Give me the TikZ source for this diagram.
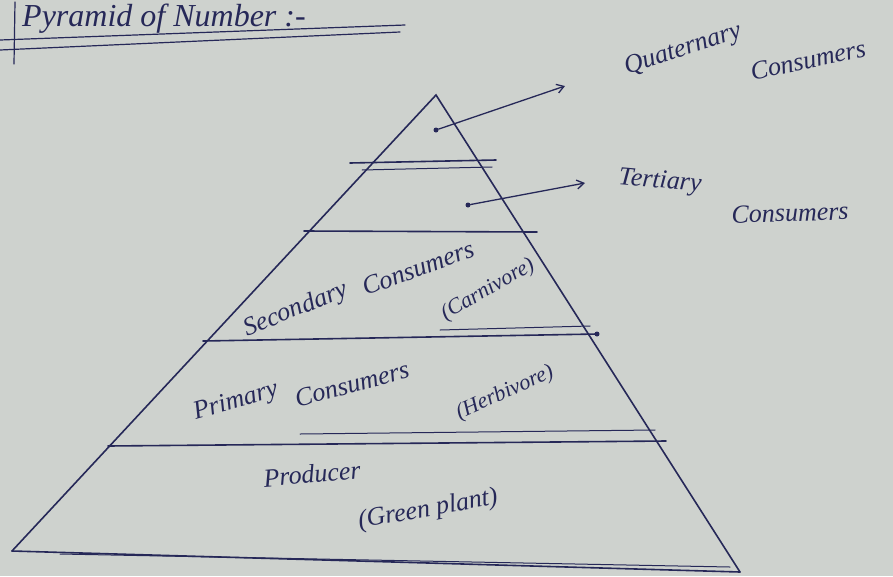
\documentclass[tikz,border=0pt]{standalone}
\usepackage{fontspec}
\setmainfont{Liberation Serif}
\usetikzlibrary{arrows.meta}
\definecolor{paper}{RGB}{206,210,206}
\definecolor{ink}{RGB}{38,40,88}
\tikzset{
  pen/.style={draw=ink, line width=1.6pt, line cap=round},
  hand/.style={text=ink, font=\itshape\fontsize{26}{28}\selectfont, inner sep=0pt},
  small hand/.style={hand, font=\itshape\fontsize{22}{24}\selectfont},
  pointer/.style={pen, line width=1.3pt, -{Straight Barb[length=7pt,width=9pt]}},
  dotmark/.style={circle, fill=ink, inner sep=0pt, minimum size=5pt}
}
\begin{document}
\begin{tikzpicture}[x=1pt,y=-1pt]
\fill[paper] (0,0) rectangle (893,576);
\useasboundingbox (0,0) rectangle (893,576);
% heading with its double underline
\node[hand, anchor=base west, font=\itshape\fontsize{32}{34}\selectfont] (title) at (22,26) {Pyramid of Number :-};
\coordinate (u1a) at (0,40); \coordinate (u1b) at (405,25);
\coordinate (u2a) at (0,50); \coordinate (u2b) at (400,32);
\draw[pen, line width=1.2pt] (u1a) -- (u1b);
\draw[pen, line width=1.2pt] (u2a) -- (u2b);
\draw[pen, line width=1.2pt] (15,2) -- (14,64);

% outline of the pyramid
\coordinate (apex) at (436,95);
\coordinate (bl) at (12,551);
\coordinate (br) at (740,572);
\draw[pen] (bl) -- (apex) -- (br);
\draw[pen] (bl) -- (br);
\draw[pen, line width=1pt] (60,554) -- (730,567);

% level dividers
\coordinate (l1a) at (350,163); \coordinate (l1b) at (496,160);
\coordinate (l2a) at (304,231); \coordinate (l2b) at (537,232);
\coordinate (l3a) at (203,341); \coordinate (l3b) at (597,334);
\coordinate (l4a) at (108,446); \coordinate (l4b) at (666,441);
\draw[pen] (l1a) -- (l1b);
\draw[pen, line width=1pt] (362,170) -- (492,167);
\draw[pen] (l2a) -- (l2b);
\draw[pen] (l3a) -- (l3b);
\draw[pen, line width=1pt] (440,330) -- (590,326);
\draw[pen] (l4a) -- (l4b);
\draw[pen, line width=1pt] (300,434) -- (655,430);
\node[dotmark] (d3) at (l3b) {};

% pointers to the two top levels
\node[dotmark] (q) at (436,130) {};
\node[dotmark] (t) at (468,205) {};
\coordinate (qend) at (565,86);
\coordinate (tend) at (585,183);
\draw[pointer] (q) -- (qend);
\draw[pointer] (t) -- (tend);

% level names
\node[hand, rotate=18] (quat) at (683,50) {Quaternary};
\node[hand, rotate=12] (quatc) at (808,60) {Consumers};
\node[hand, rotate=-5] (tert) at (660,182) {Tertiary};
\node[hand, rotate=2] (tertc) at (790,213) {Consumers};

\node[hand, rotate=22] (sec) at (296,310) {Secondary};
\node[hand, rotate=20] (secc) at (418,268) {Consumers};
\node[small hand, rotate=30] (secn) at (488,290) {(Carnivore)};

\node[hand, rotate=16] (pri) at (236,402) {Primary};
\node[hand, rotate=15] (pric) at (352,384) {Consumers};
\node[small hand, rotate=24] (prin) at (505,393) {(Herbivore)};

\node[hand, rotate=5] (prod) at (312,474) {Producer};
\node[hand, rotate=10] (prodn) at (428,510) {(Green plant)};
\end{tikzpicture}
\end{document}
